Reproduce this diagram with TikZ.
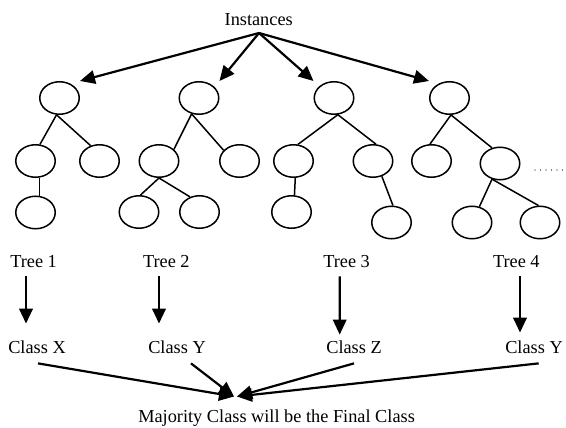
\documentclass[tikz,border=0pt]{standalone}
\usepackage{fontspec}
\setmainfont{Liberation Serif}
\usetikzlibrary{shapes.geometric,arrows.meta}
\begin{document}
\begin{tikzpicture}[x=1pt,y=-1pt,
  tn/.style={draw, ellipse, line width=1.5pt, minimum width=39.5pt, minimum height=32.5pt, inner sep=0pt},
  edge/.style={line width=1.5pt},
  arr/.style={line width=2.2pt, -{Triangle[length=15pt,width=13.5pt]}},
  lbl/.style={inner sep=0pt, anchor=base, font=\fontsize{18.3pt}{22pt}\selectfont}]
\useasboundingbox (0,0) rectangle (566,428);

% labels
\node[lbl] (inst) at (258.7,26) {Instances};
\node[lbl] (t1) at (33.6,267) {Tree 1};
\node[lbl] (t2) at (166.3,267) {Tree 2};
\node[lbl] (t3) at (346.6,267) {Tree 3};
\node[lbl] (t4) at (516.3,267) {Tree 4};
\node[lbl] (cx) at (37,353) {Class X};
\node[lbl] (cy2) at (177,353) {Class Y};
\node[lbl] (cz) at (354,353) {Class Z};
\node[lbl] (cy4) at (534,353) {Class Y};
\node[lbl] (maj) at (276.6,422) {Majority Class will be the Final Class};

% tree 1
\node[tn] (r1) at (59.5,98) {};
\node[tn] (a1) at (35.5,161) {};
\node[tn] (b1) at (99.5,161) {};
\node[tn] (c1) at (35.5,212.5) {};
% tree 2
\node[tn] (r2) at (199,98) {};
\node[tn] (a2) at (159,161) {};
\node[tn] (b2) at (239.5,161) {};
\node[tn] (c2) at (139,212) {};
\node[tn] (d2) at (199.5,212) {};
% tree 3
\node[tn] (r3) at (334,98) {};
\node[tn] (a3) at (293.5,161) {};
\node[tn] (b3) at (373,161) {};
\node[tn] (c3) at (291.5,212) {};
\node[tn] (d3) at (391.5,222.5) {};
% tree 4
\node[tn] (r4) at (449.5,98) {};
\node[tn] (a4) at (431.5,161) {};
\node[tn] (b4) at (500,163.5) {};
\node[tn] (c4) at (472,222.5) {};
\node[tn] (d4) at (540,222.5) {};

% tree edges
\draw[edge] (r1.-100) -- (a1.75);
\draw[edge] (r1.-100) -- (b1.120);
\draw[edge] (a1.-77) -- (c1.77);
\draw[edge] (r2.-115) -- (a2.38);
\draw[edge] (r2.-115) -- (b2.146);
\draw[edge] (a2.-90) -- (c2.85);
\draw[edge] (a2.-90) -- (d2.122);
\draw[edge] (r3.-77) -- (a3.75);
\draw[edge] (r3.-77) -- (b3.80);
\draw[edge] (a3.-84) -- (c3.80);
\draw[edge] (b3.-60) -- (d3.85);
\draw[edge] (r4.-85) -- (a4.95);
\draw[edge] (r4.-85) -- (b4.117);
\draw[edge] (b4.-117) -- (c4.65);
\draw[edge] (b4.-117) -- (d4.95);

% dots
\coordinate (dotsA) at (535,170);
\coordinate (dotsB) at (566,170);
\draw[line width=1.3pt, line cap=round, dash pattern=on 0pt off 5.5pt] (dotsA) -- (dotsB);

% top arrows
\coordinate (src) at (259,33);
\draw[arr] (src) -- (r1.north -| r1.east);
\draw[arr] (src) -- (r2.north -| r2.east);
\draw[arr] (src) -- (r3.north -| r3.west);
\draw[arr] (src) -- (r4.north -| r4.west);

% down arrows
\draw[arr] ([xshift=-7.6pt,yshift=-9pt]t1.south) -- ([xshift=-11pt,yshift=16.5pt]cx.north);
\draw[arr] ([xshift=-7.3pt,yshift=-9pt]t2.south) -- ([xshift=-18pt,yshift=16.5pt]cy2.north);
\draw[arr] ([xshift=-6.9pt,yshift=-9pt]t3.south) -- ([xshift=-14.3pt,yshift=5.5pt]cz.north);
\draw[arr] ([xshift=3.7pt,yshift=-9pt]t4.south) -- ([xshift=-14pt,yshift=7.5pt]cy4.north);

% converging arrows
\coordinate (vote) at (235.5,396.5);
\draw[arr] ([xshift=1pt,yshift=-10pt]cx.south) -- ([xshift=-1.5pt]vote);
\draw[arr] ([xshift=14pt,yshift=-10pt]cy2.south) -- ([xshift=-1.5pt]vote);
\draw[arr] ([yshift=-10pt]cz.south) -- ([xshift=1.5pt]vote);
\draw[arr] ([xshift=4.7pt,yshift=-10pt]cy4.south) -- ([xshift=1.5pt]vote);
\end{tikzpicture}
\end{document}
